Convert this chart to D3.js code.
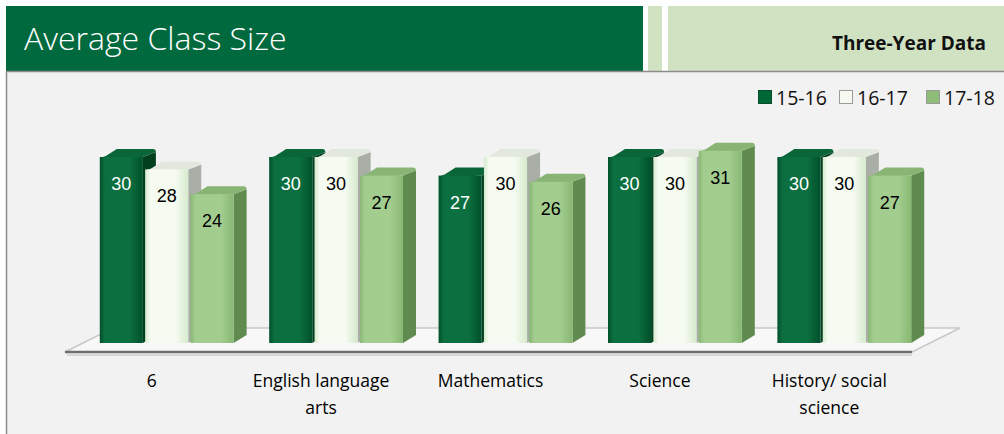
<!DOCTYPE html>
<meta charset="utf-8">
<head>
    <script type="text/javascript" src="https://d3js.org/d3.v7.min.js"></script>
    <style>
        body { margin: 0; background: #ffffff; }
        text { font-family: "Open Sans", "Noto Sans", sans-serif; }
    </style>
    <title>Average Class Size</title>
</head>
<body>
    <div id="chart"></div>
    <script type="text/javascript">

        // data
        var categories = ["6", "English language arts", "Mathematics", "Science", "History/ social science"];
        var catLines = [["6"], ["English language", "arts"], ["Mathematics"], ["Science"], ["History/ social", "science"]];
        var years = ["15-16", "16-17", "17-18"];
        var v1516 = [30, 30, 27, 30, 30];
        var v1617 = [28, 30, 30, 30, 30];
        var v1718 = [24, 27, 26, 31, 27];
        var seriesValues = [v1516, v1617, v1718];

        var w = 1004;
        var h = 434;

        var svg = d3.select("#chart")
                    .append("svg")
                    .attr("width", w)
                    .attr("height", h);

        // colours for each series: front left, front right, side, top, label
        var styles = [
            { front0: "#0c6f3f", front1: "#00502c", side: "#00401f", top: "#0a6538", label: "#ffffff", key: "#006837" },
            { front0: "#f6fbf2", front1: "#d6eacd", side: "#a9aea6", top: "#e3e8df", label: "#000000", key: "#f5f9ef" },
            { front0: "#a3cd8f", front1: "#88b873", side: "#5f8b4f", top: "#88b474", label: "#000000", key: "#8fbd79" }
        ];

        var defs = svg.append("defs");
        styles.forEach(function(s, i) {
            var g = defs.append("linearGradient").attr("id", "grad" + i)
                        .attr("x1", "0").attr("x2", "1").attr("y1", "0").attr("y2", "0");
            g.append("stop").attr("offset", "0%").attr("stop-color", s.front1);
            g.append("stop").attr("offset", "12%").attr("stop-color", s.front0);
            g.append("stop").attr("offset", "70%").attr("stop-color", s.front0);
            g.append("stop").attr("offset", "100%").attr("stop-color", s.front1);
        });

        // header
        svg.append("rect").attr("x", 6).attr("y", 6).attr("width", 637).attr("height", 65).attr("fill", "#00693d");
        svg.append("rect").attr("x", 648).attr("y", 6).attr("width", 14).attr("height", 65).attr("fill", "#d0e2c1");
        svg.append("rect").attr("x", 668).attr("y", 6).attr("width", 336).attr("height", 65).attr("fill", "#d0e2c1");
        svg.append("text").attr("x", 24).attr("y", 50)
           .attr("fill", "#ffffff").style("font-size", "32px").style("font-weight", 300)
           .text("Average Class Size");
        svg.append("text").attr("x", 986).attr("y", 50).attr("text-anchor", "end")
           .attr("fill", "#111").style("font-size", "19px").style("font-weight", 700)
           .text("Three-Year Data");

        // panel
        svg.append("rect").attr("x", 6).attr("y", 71).attr("width", 998).attr("height", 363).attr("fill", "#f2f2f2");
        svg.append("line").attr("x1", 6).attr("x2", 1004).attr("y1", 71.5).attr("y2", 71.5)
           .attr("stroke", "#8c8c8c").attr("stroke-width", 1.5);
        svg.append("line").attr("x1", 6.5).attr("x2", 6.5).attr("y1", 71).attr("y2", 434)
           .attr("stroke", "#8c8c8c").attr("stroke-width", 1.5);

        // scales
        var x0 = d3.scaleBand().domain(categories).range([82, 929]).paddingInner(0.21).paddingOuter(0.105);
        var x1 = d3.scaleBand().domain(years).range([0, x0.bandwidth()]).paddingInner(0.05);
        var y = d3.scaleLinear().domain([0, 30]).range([343, 157]);

        var dx = 13, dy = -8;

        // floor
        var fl = 65, fr = 912, ff = y(0) + 9, fdx = 48, fdy = -24;
        svg.append("path")
           .attr("d", "M" + fl + "," + ff + "L" + fr + "," + ff + "L" + (fr + fdx) + "," + (ff + fdy) +
                      "L" + (fl + fdx) + "," + (ff + fdy) + "Z")
           .attr("fill", "#f8f8f8").attr("stroke", "#c8c8c8").attr("stroke-width", 1.5);
        svg.append("line").attr("x1", fl).attr("x2", fr).attr("y1", ff).attr("y2", ff)
           .attr("stroke", "#6e6e6e").attr("stroke-width", 2.5);
        svg.append("line").attr("x1", fl + 2).attr("x2", fr).attr("y1", ff + 3).attr("y2", ff + 3)
           .attr("stroke", "#d8d8d8").attr("stroke-width", 2);

        // bars
        var bars = [];
        categories.forEach(function(c, ci) {
            years.forEach(function(yr, si) {
                bars.push({ cat: c, year: yr, s: si, value: seriesValues[si][ci] });
            });
        });

        var bar = svg.selectAll("g.bar")
                     .data(bars)
                     .enter()
                     .append("g")
                     .attr("class", "bar");

        function bx(d) { return x0(d.cat) + x1(d.year); }

        bar.append("path")
           .attr("d", function(d) {
               var x = bx(d), bw = x1.bandwidth(), t = y(d.value), b = y(0);
               return "M" + (x + bw) + "," + b + "L" + (x + bw + dx) + "," + (b + dy) +
                      "L" + (x + bw + dx) + "," + (t + dy + 3) + "L" + (x + bw) + "," + t + "Z";
           })
           .attr("fill", function(d) { return styles[d.s].side; });

        bar.append("path")
           .attr("d", function(d) {
               var x = bx(d), bw = x1.bandwidth(), t = y(d.value);
               return "M" + x + "," + (t + 3) + "Q" + (x + 1) + "," + t + " " + (x + 6) + "," + (t - 1) +
                      "L" + (x + dx + 4) + "," + (t + dy) + "L" + (x + bw + dx - 3) + "," + (t + dy) +
                      "Q" + (x + bw + dx) + "," + (t + dy) + " " + (x + bw + dx) + "," + (t + dy + 3) +
                      "L" + (x + bw) + "," + t + "Z";
           })
           .attr("fill", function(d) { return styles[d.s].top; });

        bar.append("rect")
           .attr("x", function(d) { return bx(d); })
           .attr("y", function(d) { return y(d.value); })
           .attr("width", x1.bandwidth())
           .attr("height", function(d) { return y(0) - y(d.value); })
           .attr("fill", function(d) { return "url(#grad" + d.s + ")"; });

        bar.append("text")
           .attr("x", function(d) { return bx(d) + x1.bandwidth() / 2; })
           .attr("y", function(d) { return y(d.value) + 33; })
           .attr("text-anchor", "middle")
           .attr("fill", function(d) { return styles[d.s].label; })
           .style("font-family", "'Liberation Sans', Arial, sans-serif")
           .style("font-size", "18px")
           .text(function(d) { return d.value; });

        // category labels
        var cat = svg.selectAll("text.cat")
                     .data(categories)
                     .enter()
                     .append("text")
                     .attr("class", "cat")
                     .attr("text-anchor", "middle")
                     .attr("x", function(d) { return x0(d) + x0.bandwidth() / 2 - 15; })
                     .attr("y", 387)
                     .style("font-size", "17.5px")
                     .attr("fill", "#000");
        cat.selectAll("tspan")
           .data(function(d, i) { return catLines[i]; })
           .enter()
           .append("tspan")
           .attr("x", function() { return d3.select(this.parentNode).attr("x"); })
           .attr("dy", function(d, i) { return i === 0 ? 0 : 27; })
           .text(function(d) { return d; });

        // legend
        var legendX = [758, 839, 926];
        var legend = svg.selectAll("g.legend")
                        .data(years)
                        .enter()
                        .append("g")
                        .attr("class", "legend")
                        .attr("transform", function(d, i) { return "translate(" + legendX[i] + ",90)"; });
        legend.append("rect")
              .attr("x", 0.5).attr("y", 0.5).attr("width", 13).attr("height", 13)
              .attr("fill", function(d, i) { return styles[i].key; })
              .attr("stroke", function(d, i) { return i === 0 ? "#0a4d2c" : "#9a9a9a"; });
        legend.append("text")
              .attr("x", 18).attr("y", 14.5)
              .style("font-size", "19.5px")
              .attr("fill", "#111")
              .text(function(d) { return d; });

    </script>
</body>
</html>
